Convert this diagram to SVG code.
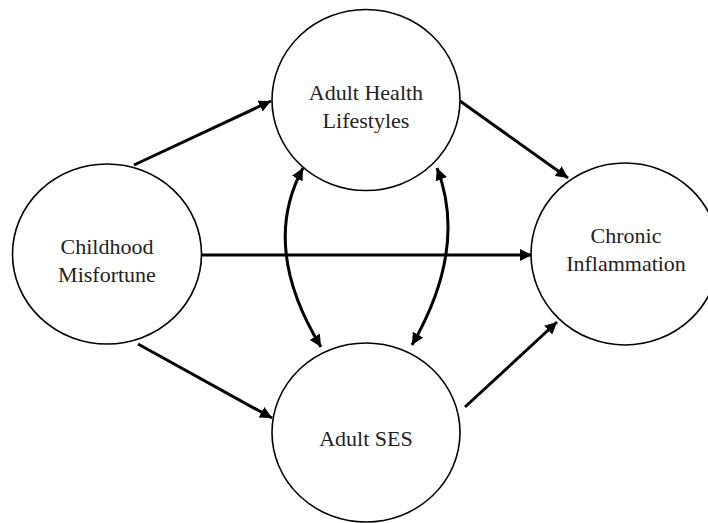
<svg xmlns="http://www.w3.org/2000/svg" width="708" height="523" viewBox="0 0 708 523">
<defs>
<style>
.node ellipse{fill:#fff;stroke:#000;stroke-width:1.6}
.node text{font-size:22px;fill:#222;text-anchor:middle}
.edges path,.edges line{stroke:#000;stroke-width:3;fill:none}
</style>
<marker id="ah" viewBox="0 0 10 10" refX="10" refY="5" markerWidth="4" markerHeight="4" orient="auto-start-reverse" markerUnits="strokeWidth">
<path d="M0,0 L10,5 L0,10 z" fill="#000"/>
</marker>
</defs>
<rect width="708" height="523" fill="#fff"/>
<g id="edges" class="edges">
<line x1="134" y1="165" x2="271" y2="101" marker-end="url(#ah)"/>
<line x1="138" y1="344" x2="272" y2="418" marker-end="url(#ah)"/>
<line x1="202" y1="255" x2="532" y2="255" marker-end="url(#ah)"/>
<line x1="460" y1="101" x2="568" y2="178" marker-end="url(#ah)"/>
<line x1="465" y1="407" x2="557" y2="322" marker-end="url(#ah)"/>
<path d="M303,168 Q260,247 321,347" marker-start="url(#ah)" marker-end="url(#ah)"/>
<path d="M437,168 Q468,248 412,345" marker-start="url(#ah)" marker-end="url(#ah)"/>
</g>
<g id="childhood" class="node" font-family="Liberation Serif, DejaVu Serif, serif">
<ellipse cx="107" cy="254" rx="94.5" ry="90"/>
<text x="107" y="254">Childhood</text>
<text x="107" y="282">Misfortune</text>
</g>
<g id="health" class="node" font-family="Liberation Serif, DejaVu Serif, serif">
<ellipse cx="366" cy="100" rx="94" ry="90.5"/>
<text x="366" y="100">Adult Health</text>
<text x="366" y="128">Lifestyles</text>
</g>
<g id="ses" class="node" font-family="Liberation Serif, DejaVu Serif, serif">
<ellipse cx="366" cy="432.5" rx="94" ry="89.5"/>
<text x="366" y="446">Adult SES</text>
</g>
<g id="inflammation" class="node" font-family="Liberation Serif, DejaVu Serif, serif">
<ellipse cx="625" cy="254" rx="94" ry="91"/>
<text x="626" y="243">Chronic</text>
<text x="626" y="271">Inflammation</text>
</g>
</svg>
